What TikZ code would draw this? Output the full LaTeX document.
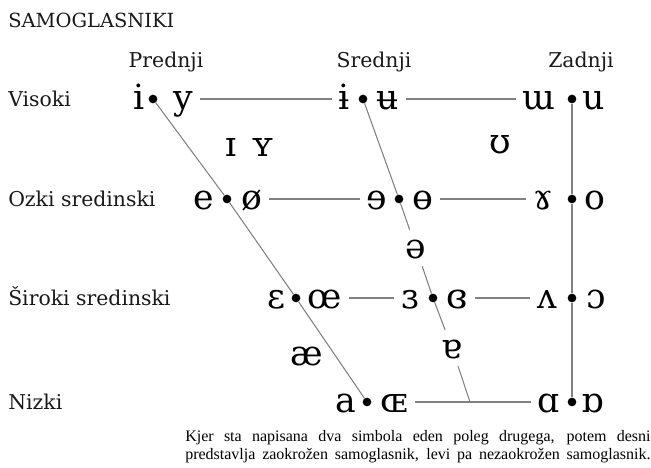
\documentclass[tikz,border=0pt]{standalone}
\usepackage{fontspec}
\setmainfont{DejaVu Serif}
\newfontfamily\notefont{Liberation Serif}
\usetikzlibrary{positioning}

\begin{document}
\begin{tikzpicture}[x=0.75pt,y=-0.75pt,
 lbl/.style={anchor=base west,font=\fontsize{15.3}{18}\selectfont,inner sep=0pt,text=black!90},
 hdr/.style={anchor=base,font=\fontsize{15.3}{18}\selectfont,inner sep=0pt,text=black!90},
 sym/.style={font=\fontsize{26}{30}\selectfont,text height=15pt,text depth=0pt,inner xsep=5pt,inner ysep=0pt},
 mid/.style={sym,inner sep=6pt},
 dot/.style={circle,fill=black,minimum size=6.5pt,inner sep=0pt},
 ln/.style={draw=black!50,line width=0.8pt}]
\useasboundingbox (0,0) rectangle (651,468);
% titles
\node[lbl,font=\fontsize{14.6}{16}\selectfont](title)at(8,27){SAMOGLASNIKI};
\node[hdr](front)at(166,67){Prednji};
\node[hdr](central)at(374,67){Srednji};
\node[hdr](back)at(581,67){Zadnji};
\node[lbl](close)at(8,106){Visoki};
\node[lbl](closemid)at(8,206){Ozki sredinski};
\node[lbl](openmid)at(8,305){Široki sredinski};
\node[lbl](open)at(8,409){Nizki};
% dots
\node[dot](f1)at(153,99){};\node[dot](c1)at(363,99){};\node[dot](b1)at(572,99){};
\node[dot](f2)at(227,199){};\node[dot](c2)at(399,199){};\node[dot](b2)at(572,199){};
\node[dot](f3)at(296,298){};\node[dot](c3)at(433,298){};\node[dot](b3)at(572,298){};
\node[dot](f4)at(367,402){};\coordinate(foot)at(470,402);\node[dot](b4)at(572,402){};
% vowels
\node[sym](i)at(139,99){i};\node[sym](y)at(183,99){y};
\node[sym](ibar)at(344,99){ɨ};\node[sym](ubar)at(388,99){ʉ};
\node[sym](wturn)at(539,99){ɯ};\node[sym](u)at(594,99){u};
\node[sym](ismall)at(231,146){ɪ};\node[sym](ysmall)at(263,146){ʏ};
\node[sym](upsilon)at(500,143){ʊ};
\node[sym](e)at(204,199){e};\node[sym](oslash)at(252,199){ø};
\node[sym](erev)at(377,199){ɘ};\node[sym](obar)at(423,199){ɵ};
\node[sym](gamma)at(543,199){ɤ};\node[sym](o)at(595,199){o};
\node[mid](schwa)at(416,248){ə};
\node[sym](eps)at(276,298){ɛ};\node[sym](oe)at(325,298){œ};
\node[sym](epsrev)at(410,298){ɜ};\node[sym](epsrevr)at(457,298){ɞ};
\node[sym](vturn)at(547,298){ʌ};\node[sym](oopen)at(596,298){ɔ};
\node[sym](ae)at(307,355){æ};
\node[mid](aturn)at(452,348){ɐ};
\node[sym](a)at(346,402){a};\node[sym](OE)at(394,402){ɶ};
\node[sym](alpha)at(549,402){ɑ};\node[sym](alphar)at(593,402){ɒ};
% lines
\draw[ln](y)--(ibar);\draw[ln](ubar)--(wturn);
\draw[ln](oslash)--(erev);\draw[ln](obar)--(gamma);
\draw[ln](oe)--(epsrev);\draw[ln](epsrevr)--(vturn);
\draw[ln](OE)--(alpha);
\draw[ln](f1)--(f2)--(f3)--(f4);
\draw[ln](c1)--(c2)--(schwa)--(c3)--(aturn)--(foot);
\draw[ln](b1)--(b2)--(b3)--(b4);
% note
\node[anchor=base west,inner sep=0pt,font=\notefont\fontsize{12}{14}\selectfont](note1)at(185,441)
 {\makebox[349pt][s]{Kjer sta napisana dva simbola eden poleg drugega, potem desni}};
\node[anchor=base west,inner sep=0pt,font=\notefont\fontsize{12}{14}\selectfont](note2)at(185,459)
 {\makebox[349pt][s]{predstavlja zaokrožen samoglasnik, levi pa nezaokrožen samoglasnik.}};
\end{tikzpicture}
\end{document}
